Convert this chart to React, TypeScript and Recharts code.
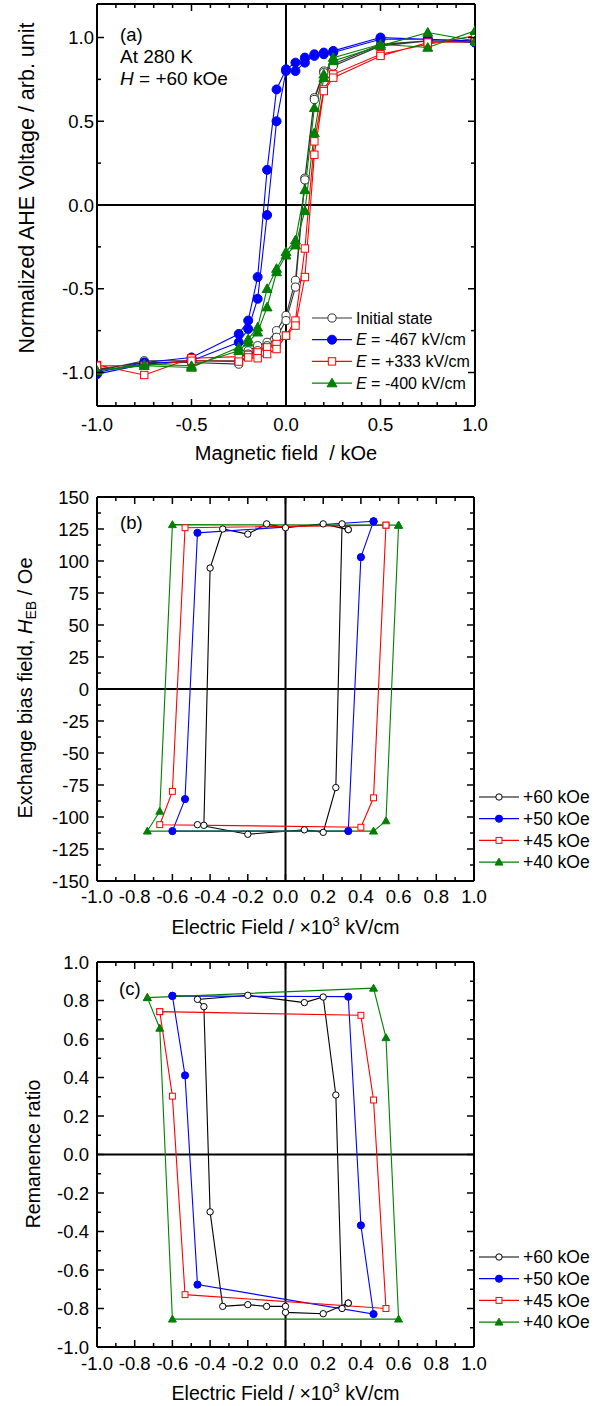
import React from 'react';
import { LineChart, Line, XAxis, YAxis, ReferenceLine, Legend } from 'recharts';

const FONT = '"Liberation Sans", Arial, Helvetica, sans-serif';

// ---------- (a) normalized AHE loops, field in kOe ----------
const fieldDown = [1, 0.75, 0.5, 0.25, 0.2, 0.15, 0.1, 0.05, 0, -0.05, -0.1, -0.15, -0.2, -0.25, -0.5, -0.75, -1];
const fieldUp = [-1, -0.75, -0.5, -0.25, -0.2, -0.15, -0.1, -0.05, 0, 0.05, 0.1, 0.15, 0.2, 0.25, 0.5, 0.75, 1];

const initialDown = [0.97, 0.98, 0.96, 0.84, 0.8, 0.64, 0.16, -0.45, -0.66, -0.75, -0.82, -0.84, -0.87, -0.93, -0.93, -0.93, -0.99];
const initialUp = [-0.98, -0.94, -0.94, -0.95, -0.89, -0.87, -0.84, -0.79, -0.69, -0.49, 0.15, 0.63, 0.79, 0.83, 0.95, 0.98, 0.97];
const e467Down = [0.98, 0.99, 1.0, 0.92, 0.91, 0.9, 0.88, 0.85, 0.81, 0.69, 0.21, -0.43, -0.69, -0.77, -0.91, -0.94, -1.0];
const e467Up = [-1.01, -0.95, -0.93, -0.82, -0.74, -0.56, -0.06, 0.5, 0.8, 0.8, 0.85, 0.89, 0.9, 0.91, 0.99, 0.99, 0.97];
const e333Down = [1.01, 0.96, 0.9, 0.78, 0.69, 0.38, -0.26, -0.69, -0.78, -0.83, -0.85, -0.88, -0.895, -0.905, -0.915, -1.015, -0.955];
const e333Up = [-0.96, -0.96, -0.93, -0.935, -0.91, -0.915, -0.89, -0.86, -0.78, -0.72, -0.43, 0.3, 0.68, 0.76, 0.89, 0.97, 0.975];
const e400Down = [1.04, 0.94, 0.96, 0.88, 0.78, 0.58, 0.09, -0.21, -0.28, -0.38, -0.5, -0.73, -0.8, -0.85, -0.97, -0.96, -0.99];
const e400Up = [-0.99, -0.95, -0.96, -0.87, -0.82, -0.76, -0.61, -0.4, -0.3, -0.24, -0.035, 0.43, 0.76, 0.86, 0.95, 1.03, 0.98];

// ---------- (b) exchange bias vs electric field (x10^3 kV/cm) ----------
const eb60E = [0.333, 0.2, 0, -0.1, -0.2, -0.333, -0.4, -0.433, -0.467, -0.2, 0.1, 0.2, 0.267, 0.3, 0.333];
const eb60H = [124.5, 129, 126, 129, 121, 125, 94.5, -106.5, -106, -113.5, -110, -112, -77, 129, 124.5];
const eb50E = [0.467, -0.467, -0.533, -0.6, 0.333, 0.4, 0.467];
const eb50H = [131, 122, -86, -111, -111, 103, 131];
const eb45E = [0.533, -0.533, -0.6, -0.667, 0.4, 0.467, 0.533];
const eb45H = [128, 126, -80, -106, -108, -85, 128];
const eb40E = [0.6, -0.6, -0.667, -0.733, 0.467, 0.533, 0.6];
const eb40H = [128, 128.4, -95.5, -111, -111, -103, 128];

// ---------- (c) remanence ratio vs electric field ----------
const rm60E = [0.333, 0.2, 0, 0, -0.1, -0.2, -0.333, -0.4, -0.433, -0.467, -0.2, 0.1, 0.2, 0.267, 0.3, 0.333];
const rm60R = [-0.772, -0.827, -0.82, -0.789, -0.789, -0.78, -0.789, -0.298, 0.768, 0.806, 0.827, 0.789, 0.818, 0.309, -0.8, -0.772];
const rm50E = [-0.6, 0.333, 0.4, 0.467, -0.467, -0.533, -0.6];
const rm50R = [0.824, 0.82, -0.368, -0.829, -0.676, 0.411, 0.824];
const rm45E = [-0.667, 0.4, 0.467, 0.533, -0.533, -0.6, -0.667];
const rm45R = [0.742, 0.723, 0.283, -0.8, -0.728, 0.303, 0.742];
const rm40E = [-0.733, 0.467, 0.533, 0.6, -0.6, -0.667, -0.733];
const rm40R = [0.815, 0.864, 0.607, -0.855, -0.855, 0.656, 0.815];

// ---------- ticks ----------
const fieldTicksA = [-1, -0.9, -0.8, -0.7, -0.6, -0.5, -0.4, -0.3, -0.2, -0.1, 0, 0.1, 0.2, 0.3, 0.4, 0.5, 0.6, 0.7, 0.8, 0.9, 1];
const fieldMajorA = [-1, -0.5, 0, 0.5, 1];
const aheTicks = [-1, -0.75, -0.5, -0.25, 0, 0.25, 0.5, 0.75, 1];
const aheMajor = [-1, -0.5, 0, 0.5, 1];
const eTicks = fieldTicksA;
const eMajor = [-1, -0.8, -0.6, -0.4, -0.2, 0, 0.2, 0.4, 0.6, 0.8, 1];
const hebTicks = [-150, -137.5, -125, -112.5, -100, -87.5, -75, -62.5, -50, -37.5, -25, -12.5, 0, 12.5, 25, 37.5, 50, 62.5, 75, 87.5, 100, 112.5, 125, 137.5, 150];
const hebMajor = [-150, -125, -100, -75, -50, -25, 0, 25, 50, 75, 100, 125, 150];
const remTicks = [-1, -0.9, -0.8, -0.7, -0.6, -0.5, -0.4, -0.3, -0.2, -0.1, 0, 0.1, 0.2, 0.3, 0.4, 0.5, 0.6, 0.7, 0.8, 0.9, 1];
const remMajor = [-1, -0.8, -0.6, -0.4, -0.2, 0, 0.2, 0.4, 0.6, 0.8, 1];

type Pt = { x: number; y: number };
type Shape = 'openCircle' | 'circle' | 'openSquare' | 'triangle';
type Series = { key: string; label: React.ReactNode; color: string; shape: Shape; data: Pt[] };

const zip = (xs: number[], ys: number[]): Pt[] => xs.map((x, i) => ({ x, y: ys[i] }));
const loop = (down: number[], up: number[]): Pt[] => [...zip(fieldDown, down), ...zip(fieldUp, up)];
const hasTick = (list: number[], v: number) => list.some((m) => Math.abs(m - v) < 1e-6);

function Marker({ cx, cy, shape, color, size }: { cx?: number; cy?: number; shape: Shape; color: string; size: number }) {
  if (cx == null || cy == null || Number.isNaN(cx) || Number.isNaN(cy)) return null;
  if (shape === 'circle') return <circle cx={cx} cy={cy} r={size} fill={color} stroke={color} strokeWidth={1} />;
  if (shape === 'openCircle') return <circle cx={cx} cy={cy} r={size - 0.4} fill="#fff" stroke={color} strokeWidth={1} />;
  if (shape === 'openSquare') {
    const s = size * 0.82;
    return <rect x={cx - s} y={cy - s} width={2 * s} height={2 * s} fill="#fff" stroke={color} strokeWidth={1} />;
  }
  const t = size * 1.1;
  return (
    <polygon
      points={`${cx},${cy - t} ${cx - t},${cy + t * 0.75} ${cx + t},${cy + t * 0.75}`}
      fill={color}
      stroke={color}
      strokeWidth={1}
    />
  );
}

interface PanelProps {
  top: number;
  height: number;
  plotTop: number;
  plotBottom: number;
  plotRight: number;
  xDomain: [number, number];
  yDomain: [number, number];
  xTicks: number[];
  xMajor: number[];
  yTicks: number[];
  yMajor: number[];
  yFmt: (v: number) => string;
  xLabelGap: number;
  yLabelGap: number;
  xTitle: React.ReactNode;
  xTitleY: number;
  xTitleSize: number;
  yTitle: React.ReactNode;
  yTitleX: number;
  yTitleY: number;
  yTitleSize: number;
  series: Series[];
  markerSize: number;
  legendX: number;
  legendY: number;
  legendFont: number;
  notes: { text: React.ReactNode; x: number; y: number; size: number }[];
}

const PLOT_LEFT = 97;

function Panel(p: PanelProps) {
  const renderXTick = (t: any) => {
    const v = t.payload.value;
    const major = hasTick(p.xMajor, v);
    const len = major ? 7 : 4;
    return (
      <g key={`xt-${v}`}>
        <line x1={t.x} x2={t.x} y1={p.plotBottom} y2={p.plotBottom - len} stroke="#000" strokeWidth={1.5} />
        <line x1={t.x} x2={t.x} y1={p.plotTop} y2={p.plotTop + len} stroke="#000" strokeWidth={1.5} />
        {major && (
          <text x={t.x} y={p.plotBottom + p.xLabelGap} textAnchor="middle" fontSize={18.5} fontFamily={FONT} fill="#000">
            {v.toFixed(1)}
          </text>
        )}
      </g>
    );
  };

  const renderYTick = (t: any) => {
    const v = t.payload.value;
    const major = hasTick(p.yMajor, v);
    const len = major ? 7 : 4;
    return (
      <g key={`yt-${v}`}>
        <line x1={PLOT_LEFT} x2={PLOT_LEFT + len} y1={t.y} y2={t.y} stroke="#000" strokeWidth={1.5} />
        <line x1={p.plotRight} x2={p.plotRight - len} y1={t.y} y2={t.y} stroke="#000" strokeWidth={1.5} />
        {major && (
          <text x={PLOT_LEFT - p.yLabelGap} y={t.y} dy="0.36em" textAnchor="end" fontSize={18.5} fontFamily={FONT} fill="#000">
            {p.yFmt(v)}
          </text>
        )}
      </g>
    );
  };

  const renderLegend = () => (
    <svg width={160} height={95} style={{ overflow: 'visible', display: 'block' }}>
      {p.series.map((s, i) => {
        const y = 11 + i * 21.7;
        return (
          <g key={s.key}>
            <line x1={0} x2={40} y1={y} y2={y} stroke={s.color} strokeWidth={1.2} />
            <Marker cx={20} cy={y} shape={s.shape} color={s.color} size={p.markerSize} />
            <text x={44} y={y} dy="0.36em" fontSize={p.legendFont} fontFamily={FONT} fill="#000">
              {s.label}
            </text>
          </g>
        );
      })}
    </svg>
  );

  const frame = { stroke: '#000', strokeWidth: 2 };

  return (
    <div style={{ position: 'absolute', left: 0, top: p.top, width: 605, height: p.height }}>
      <LineChart
        width={605}
        height={p.height}
        margin={{ top: p.plotTop, right: 605 - p.plotRight, bottom: 0, left: 0 }}
        style={{ fontFamily: FONT }}
      >
        <XAxis
          type="number"
          dataKey="x"
          domain={p.xDomain}
          ticks={p.xTicks}
          interval={0}
          allowDataOverflow
          height={p.height - p.plotBottom}
          tickSize={0}
          tickMargin={0}
          tickLine={false}
          axisLine={false}
          tick={renderXTick}
          label={() => (
            <text
              x={(PLOT_LEFT + p.plotRight) / 2}
              y={p.xTitleY}
              textAnchor="middle"
              fontSize={p.xTitleSize}
              fontFamily={FONT}
              fill="#000"
              style={{ whiteSpace: 'pre' }}
            >
              {p.xTitle}
            </text>
          )}
        />
        <YAxis
          type="number"
          domain={p.yDomain}
          ticks={p.yTicks}
          interval={0}
          allowDataOverflow
          width={PLOT_LEFT}
          tickSize={0}
          tickMargin={0}
          tickLine={false}
          axisLine={false}
          tick={renderYTick}
          label={() => (
            <text
              x={p.yTitleX}
              y={p.yTitleY}
              transform={`rotate(-90 ${p.yTitleX} ${p.yTitleY})`}
              textAnchor="middle"
              fontSize={p.yTitleSize}
              fontFamily={FONT}
              fill="#000"
            >
              {p.yTitle}
            </text>
          )}
        />
        <ReferenceLine x={0} {...frame} />
        <ReferenceLine y={0} {...frame} />
        <ReferenceLine x={p.xDomain[0]} {...frame} />
        <ReferenceLine x={p.xDomain[1]} {...frame} />
        <ReferenceLine y={p.yDomain[0]} {...frame} />
        <ReferenceLine y={p.yDomain[1]} {...frame} />
        {p.series.map((s) => (
          <Line
            key={s.key}
            data={s.data}
            dataKey="y"
            type="linear"
            stroke={s.color}
            strokeWidth={1.1}
            isAnimationActive={false}
            activeDot={false}
            dot={(d: any) => (
              <Marker key={`${s.key}-${d.index}`} cx={d.cx} cy={d.cy} shape={s.shape} color={s.color} size={p.markerSize} />
            )}
          />
        ))}
        <Legend
          layout="vertical"
          align="center"
          verticalAlign="middle"
          wrapperStyle={{ left: p.legendX, top: p.legendY - 11, width: 160, height: 95 }}
          content={renderLegend}
        />
      </LineChart>
      <svg width={605} height={p.height} style={{ position: 'absolute', left: 0, top: 0, pointerEvents: 'none' }}>
        {p.notes.map((n, i) => (
          <text key={i} x={n.x} y={n.y} fontSize={n.size} fontFamily={FONT} fill="#000">
            {n.text}
          </text>
        ))}
      </svg>
    </div>
  );
}

const ahe: Series[] = [
  { key: 'init', label: 'Initial state', color: '#333', shape: 'openCircle', data: loop(initialDown, initialUp) },
  {
    key: 'm467',
    label: (<><tspan fontStyle="italic">E</tspan> = -467 kV/cm</>),
    color: '#0000ff',
    shape: 'circle',
    data: loop(e467Down, e467Up),
  },
  {
    key: 'p333',
    label: (<><tspan fontStyle="italic">E</tspan> = +333 kV/cm</>),
    color: '#ff0000',
    shape: 'openSquare',
    data: loop(e333Down, e333Up),
  },
  {
    key: 'm400',
    label: (<><tspan fontStyle="italic">E</tspan> = -400 kV/cm</>),
    color: '#008000',
    shape: 'triangle',
    data: loop(e400Down, e400Up),
  },
];

const exchange: Series[] = [
  { key: 'h60', label: '+60 kOe', color: '#000', shape: 'openCircle', data: zip(eb60E, eb60H) },
  { key: 'h50', label: '+50 kOe', color: '#0000ff', shape: 'circle', data: zip(eb50E, eb50H) },
  { key: 'h45', label: '+45 kOe', color: '#ff0000', shape: 'openSquare', data: zip(eb45E, eb45H) },
  { key: 'h40', label: '+40 kOe', color: '#008000', shape: 'triangle', data: zip(eb40E, eb40H) },
];

const remanence: Series[] = [
  { key: 'r60', label: '+60 kOe', color: '#000', shape: 'openCircle', data: zip(rm60E, rm60R) },
  { key: 'r50', label: '+50 kOe', color: '#0000ff', shape: 'circle', data: zip(rm50E, rm50R) },
  { key: 'r45', label: '+45 kOe', color: '#ff0000', shape: 'openSquare', data: zip(rm45E, rm45R) },
  { key: 'r40', label: '+40 kOe', color: '#008000', shape: 'triangle', data: zip(rm40E, rm40R) },
];

const eFieldTitle = (
  <>
    Electric Field / ×10<tspan fontSize={13} dy={-8}>3</tspan>
    <tspan dy={8}> kV/cm</tspan>
  </>
);

export default function App() {
  return (
    <div style={{ position: 'absolute', left: 0, top: 0, width: 605, height: 1406, background: '#fff' }}>
      <Panel
        top={0}
        height={470}
        plotTop={4}
        plotBottom={406}
        plotRight={475}
        xDomain={[-1, 1]}
        yDomain={[-1.2, 1.2]}
        xTicks={fieldTicksA}
        xMajor={fieldMajorA}
        yTicks={aheTicks}
        yMajor={aheMajor}
        yFmt={(v) => v.toFixed(1)}
        xLabelGap={25}
        yLabelGap={3}
        xTitle={'Magnetic field \u00a0/ kOe'}
        xTitleY={460}
        xTitleSize={20}
        yTitle="Normalized AHE Voltage / arb. unit"
        yTitleX={33.5}
        yTitleY={188}
        yTitleSize={21.5}
        series={ahe}
        markerSize={4.5}
        legendX={312}
        legendY={318}
        legendFont={16}
        notes={[
          { text: '(a)', x: 120, y: 40.5, size: 18.5 },
          { text: 'At 280 K', x: 120, y: 62.5, size: 19 },
          { text: (<><tspan fontStyle="italic">H</tspan> = +60 kOe</>), x: 120, y: 84.5, size: 19 },
        ]}
      />
      <Panel
        top={470}
        height={470}
        plotTop={27}
        plotBottom={411}
        plotRight={474}
        xDomain={[-1, 1]}
        yDomain={[-150, 150]}
        xTicks={eTicks}
        xMajor={eMajor}
        yTicks={hebTicks}
        yMajor={hebMajor}
        yFmt={(v) => String(v)}
        xLabelGap={22}
        yLabelGap={8}
        xTitle={eFieldTitle}
        xTitleY={464}
        xTitleSize={19.5}
        yTitle={(
          <>
            Exchange bias field, <tspan fontStyle="italic">H</tspan>
            <tspan fontSize={14} dy={4}>EB</tspan>
            <tspan dy={-4}> / Oe</tspan>
          </>
        )}
        yTitleX={31.5}
        yTitleY={218}
        yTitleSize={20}
        series={exchange}
        markerSize={3.6}
        legendX={479}
        legendY={326.7}
        legendFont={17.5}
        notes={[{ text: '(b)', x: 120, y: 59, size: 18.5 }]}
      />
      <Panel
        top={940}
        height={466}
        plotTop={22}
        plotBottom={407}
        plotRight={474}
        xDomain={[-1, 1]}
        yDomain={[-1, 1]}
        xTicks={eTicks}
        xMajor={eMajor}
        yTicks={remTicks}
        yMajor={remMajor}
        yFmt={(v) => v.toFixed(1)}
        xLabelGap={23}
        yLabelGap={8}
        xTitle={eFieldTitle}
        xTitleY={460}
        xTitleSize={19.5}
        yTitle="Remanence ratio"
        yTitleX={40}
        yTitleY={214}
        yTitleSize={19.5}
        series={remanence}
        markerSize={3.6}
        legendX={479}
        legendY={316.7}
        legendFont={17.5}
        notes={[{ text: '(c)', x: 119, y: 55, size: 18.5 }]}
      />
    </div>
  );
}
